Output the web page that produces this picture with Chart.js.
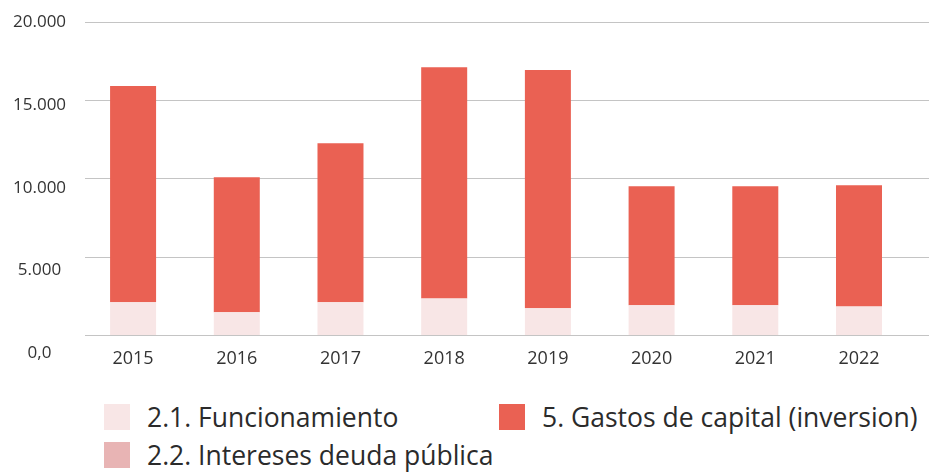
<!DOCTYPE html>
<html lang="es">
<head>
<meta charset="utf-8">
<title>Gastos por año</title>
<script src="https://cdn.jsdelivr.net/npm/chart.js@4/dist/chart.umd.min.js"></script>
<style>
  html, body { margin: 0; padding: 0; background: #fff; }
  #wrap { position: relative; width: 929px; height: 473px; }
  #box { position: absolute; left: 0; top: 0; width: 929px; height: 385px; }
  #leyenda {
    position: absolute; left: 104px; top: 404px; margin: 0; padding: 0;
    list-style: none; display: grid; grid-template-columns: 395px auto; row-gap: 12px;
    font-family: 'Open Sans', sans-serif; font-size: 26.5px; color: #2b2b2b;
  }
  #leyenda li { display: flex; align-items: center; height: 26px; white-space: nowrap; }
  #leyenda li span.caja { width: 26px; height: 26px; margin-right: 17px; flex: none; }
</style>
</head>
<body>
<div id="wrap">
  <div id="box"><canvas id="graficoGastos"></canvas></div>
  <ul id="leyenda"></ul>
</div>
<script>
// Años
const anios = [2015, 2016, 2017, 2018, 2019, 2020, 2021, 2022];

// Series (millones)
const funcionamiento = [2110, 1470, 2110, 2360, 1730, 1920, 1920, 1850];
const interesesDeuda = [0, 0, 0, 0, 0, 0, 0, 0];
const gastosCapital = [13800, 8630, 10160, 14760, 15210, 7600, 7600, 7730];

// Marcas del eje vertical
const marcasY = [0, 5000, 10000, 15000, 20000];

// Orden en la leyenda
const ordenLeyenda = ["2.1. Funcionamiento", "5. Gastos de capital (inversion)", "2.2. Intereses deuda pública"];

function formatoMiles(v) {
  if (v === 0) return "0,0";
  return String(v).replace(/\B(?=(\d{3})+(?!\d))/g, ".");
}

// puntos {x: año, y: valor} para el eje x lineal
function porAnio(serie) {
  return serie.map((v, i) => ({ x: anios[i], y: v }));
}

Chart.defaults.font.family = "'Open Sans', sans-serif";
Chart.defaults.font.size = 17;
Chart.defaults.color = "#333";

// Leyenda en HTML, en dos columnas
const leyendaHtml = {
  id: "leyendaHtml",
  afterUpdate(chart) {
    const ul = document.getElementById("leyenda");
    ul.innerHTML = "";
    const items = chart.options.plugins.legend.labels.generateLabels(chart);
    items.sort((a, b) => ordenLeyenda.indexOf(a.text) - ordenLeyenda.indexOf(b.text));
    items.forEach((item) => {
      const li = document.createElement("li");
      const caja = document.createElement("span");
      caja.className = "caja";
      caja.style.background = item.fillStyle;
      li.appendChild(caja);
      li.appendChild(document.createTextNode(item.text));
      ul.appendChild(li);
    });
  },
};

const ctx = document.getElementById("graficoGastos").getContext("2d");

const config = {
  type: "bar",
  data: {
    datasets: [
      { label: "2.1. Funcionamiento", data: porAnio(funcionamiento), backgroundColor: "#f8e6e6" },
      { label: "2.2. Intereses deuda pública", data: porAnio(interesesDeuda), backgroundColor: "#e8b4b4" },
      { label: "5. Gastos de capital (inversion)", data: porAnio(gastosCapital), backgroundColor: "#ea6153" },
    ],
  },
  plugins: [leyendaHtml],
  options: {
    responsive: true,
    maintainAspectRatio: false,
    animation: false,
    layout: { padding: { left: 12, right: 0, top: 22, bottom: 10 } },
    datasets: { bar: { barPercentage: 0.4436, categoryPercentage: 1 } },
    scales: {
      x: {
        type: "linear",
        stacked: true,
        offset: false,
        // la cuadrícula sigue hasta el borde, más allá del último año
        min: 2014.537,
        max: 2022.675,
        grid: { display: false },
        border: { display: false },
        afterBuildTicks(axis) {
          axis.ticks = anios.map((a) => ({ value: a }));
        },
        ticks: { padding: 5, color: "#333", font: { size: 18 }, callback: (v) => String(v) },
      },
      y: {
        stacked: true,
        position: "left",
        min: 0,
        max: 20000,
        ticks: { display: false, stepSize: 5000 },
        grid: { color: "#c4c4c4", lineWidth: 1, drawTicks: false },
        border: { display: false },
        // solo aporta la cuadrícula y el hueco entre etiquetas y barras
        afterFit(axis) {
          axis.width = 18;
        },
      },
      // eje solo para las etiquetas, con su propio espaciado
      yEtiquetas: {
        position: "left",
        min: 1088,
        max: 20000,
        grid: { display: false, drawTicks: false },
        border: { display: false },
        afterBuildTicks(axis) {
          axis.ticks = marcasY.map((v) => ({ value: v }));
        },
        ticks: {
          crossAlign: "center",
          padding: 1,
          color: "#333",
          autoSkip: false,
          callback: (v) => formatoMiles(v),
        },
      },
    },
    plugins: {
      legend: { display: false },
      tooltip: { enabled: false },
    },
  },
};

const chart = new Chart(ctx, config);
</script>
</body>
</html>
